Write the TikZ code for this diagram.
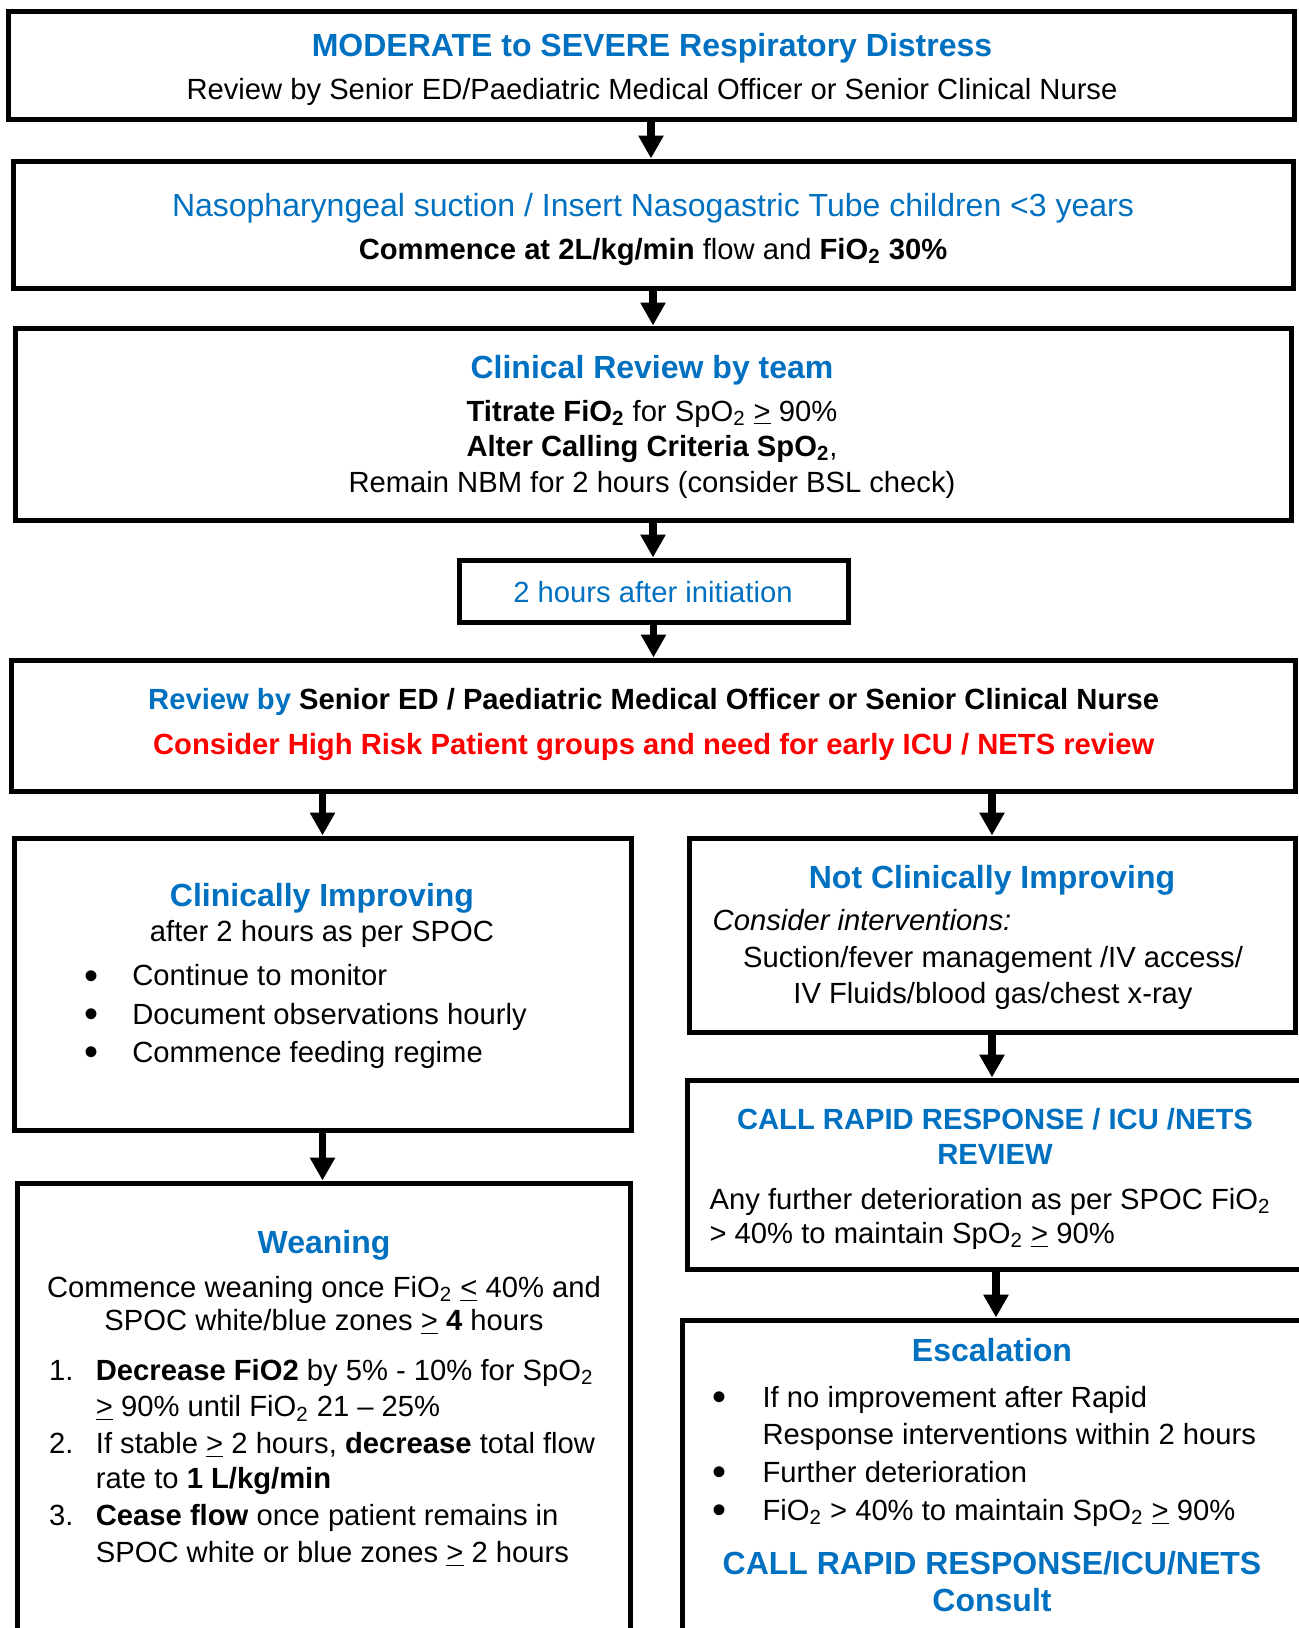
\documentclass[tikz,border=0pt]{standalone}
\usepackage{fontspec}
\setmainfont{Liberation Sans}
\usetikzlibrary{arrows.meta}
\definecolor{nblue}{RGB}{0,112,192}
\definecolor{nred}{RGB}{255,0,0}
\newcommand{\bodysz}{\fontsize{14.6}{17.5}\selectfont}
\newcommand{\headsz}{\fontsize{16}{19}\selectfont}
\newcommand{\ulgt}{\underline{>}}
\newcommand{\ullt}{\underline{<}}

\begin{document}
\begin{tikzpicture}[x=0.5pt,y=-0.5pt,
    box/.style={draw,line width=2.5pt,inner sep=0pt},
    arr/.style={line width=3.6pt,-{Triangle[length=11.5pt,width=12pt]}},
    ln/.style={inner sep=0pt,text height=0.72em,text depth=0pt,yshift=-1.8pt,font=\bodysz},
    hd/.style={ln,font=\headsz\bfseries,text=nblue},
    dot/.style={ln,yshift=-1.6pt,font=\fontsize{20}{20}\selectfont}]
      \useasboundingbox (0,0) rectangle (1298,1628);

      \node[box,minimum width=643pt,minimum height=54pt] (b1) at (651,65) {};
      \node[box,minimum width=640pt,minimum height=63.5pt] (b2) at (653,224.5) {};
      \node[box,minimum width=638pt,minimum height=96pt] (b3) at (653,424) {};
      \node[box,minimum width=194.5pt,minimum height=31pt] (b4) at (653.5,591) {};
      \node[box,minimum width=642pt,minimum height=65.5pt] (b5) at (653,725.5) {};
      \node[box,minimum width=308.5pt,minimum height=146pt] (b6) at (322.5,984) {};
      \node[box,minimum width=303pt,minimum height=97pt] (b7) at (992,935) {};
      \node[box,minimum width=308.5pt,minimum height=94.5pt] (b8) at (996,1174.5) {};
      \node[box,minimum width=306.5pt,minimum height=248.5pt] (b9) at (323.5,1431.5) {};
      \node[box,minimum width=314pt,minimum height=180pt] (b10) at (996,1500) {};

      \node[hd] (b1t1) at (652,45.7) {MODERATE to SEVERE Respiratory Distress};
      \node[ln] (b1t2) at (652,88.3) {Review by Senior ED/Paediatric Medical Officer or Senior Clinical Nurse};

      \node[ln,font=\headsz,text=nblue] (b2t1) at (653,205.6) {Nasopharyngeal suction / Insert Nasogastric Tube children <3 years};
      \node[ln] (b2t2) at (653,248.2) {\textbf{Commence at 2L/kg/min} flow and \textbf{FiO\textsubscript{2} 30\%}};

      \node[hd] (b3t1) at (652,367.6) {Clinical Review by team};
      \node[ln] (b3t2) at (652,410.2) {\textbf{Titrate FiO\textsubscript{2}} for SpO\textsubscript{2} \ulgt{} 90\%};
      \node[ln] (b3t3) at (652,445.5) {\textbf{Alter Calling Criteria SpO\textsubscript{2}},};
      \node[ln] (b3t4) at (652,481.8) {Remain NBM for 2 hours (consider BSL check)};

      \node[ln,text=nblue] (b4t1) at (653,591.9) {2 hours after initiation};

      \node[ln,font=\bodysz\bfseries] (b5t1) at (653.7,698.8) {{\color{nblue}Review by} Senior ED / Paediatric Medical Officer or Senior Clinical Nurse};
      \node[ln,font=\bodysz\bfseries,text=nred] (b5t2) at (653.7,743.5) {Consider High Risk Patient groups and need for early ICU / NETS review};

      \node[hd] (b6t1) at (322,896.1) {Clinically Improving};
      \node[ln] (b6t2) at (322,930.4) {after 2 hours as per SPOC};
      \node[dot] (b6d1) at (91.4,975) {\textbullet};
      \node[ln,anchor=west] (b6t3) at (131.9,975) {Continue to monitor};
      \node[dot] (b6d2) at (91.4,1013.5) {\textbullet};
      \node[ln,anchor=west] (b6t4) at (131.9,1013.5) {Document observations hourly};
      \node[dot] (b6d3) at (91.4,1051.9) {\textbullet};
      \node[ln,anchor=west] (b6t5) at (131.9,1051.9) {Commence feeding regime};

      \node[hd] (b7t1) at (992,877.4) {Not Clinically Improving};
      \node[ln,anchor=west,font=\bodysz\itshape] (b7t2) at (712.3,920) {Consider interventions:};
      \node[ln] (b7t3) at (993,956.4) {Suction/fever management /IV access/};
      \node[ln] (b7t4) at (993,992.7) {IV Fluids/blood gas/chest x-ray};

      \node[ln,font=\bodysz\bfseries,text=nblue] (b8t1) at (995,1118.4) {CALL RAPID RESPONSE / ICU /NETS};
      \node[ln,font=\bodysz\bfseries,text=nblue] (b8t2) at (995,1153.7) {REVIEW};
      \node[ln,anchor=west] (b8t3) at (709.2,1198.3) {Any further deterioration as per SPOC FiO\textsubscript{2}};
      \node[ln,anchor=west] (b8t4) at (709.2,1232.6) {> 40\% to maintain SpO\textsubscript{2} \ulgt{} 90\%};

      \node[hd] (b9t1) at (324,1243) {Weaning};
      \node[ln] (b9t2) at (324,1286.6) {Commence weaning once FiO\textsubscript{2} \ullt{} 40\% and};
      \node[ln] (b9t3) at (324,1319.8) {SPOC white/blue zones \ulgt{} \textbf{4} hours};
      \node[ln,anchor=west] (b9n1) at (48.8,1369.7) {1.};
      \node[ln,anchor=west] (b9t4) at (95.5,1369.7) {\textbf{Decrease FiO2} by 5\% - 10\% for SpO\textsubscript{2}};
      \node[ln,anchor=west] (b9t5) at (95.5,1406) {\ulgt{} 90\% until FiO\textsubscript{2} 21 – 25\%};
      \node[ln,anchor=west] (b9n2) at (48.8,1442.3) {2.};
      \node[ln,anchor=west] (b9t6) at (95.5,1442.3) {If stable \ulgt{} 2 hours, \textbf{decrease} total flow};
      \node[ln,anchor=west] (b9t7) at (95.5,1477.6) {rate to \textbf{1 L/kg/min}};
      \node[ln,anchor=west] (b9n3) at (48.8,1515) {3.};
      \node[ln,anchor=west] (b9t8) at (95.5,1515) {\textbf{Cease flow} once patient remains in};
      \node[ln,anchor=west] (b9t9) at (95.5,1551.4) {SPOC white or blue zones \ulgt{} 2 hours};

      \node[hd] (b10t1) at (992,1351) {Escalation};
      \node[dot] (b10d1) at (719.6,1396.7) {\textbullet};
      \node[ln,anchor=west] (b10t2) at (762.2,1396.7) {If no improvement after Rapid};
      \node[ln,anchor=west] (b10t3) at (762.2,1434) {Response interventions within 2 hours};
      \node[dot] (b10d2) at (719.6,1471.4) {\textbullet};
      \node[ln,anchor=west] (b10t4) at (762.2,1471.4) {Further deterioration};
      \node[dot] (b10d3) at (719.6,1509.8) {\textbullet};
      \node[ln,anchor=west] (b10t5) at (762.2,1509.8) {FiO\textsubscript{2} > 40\% to maintain SpO\textsubscript{2} \ulgt{} 90\%};
      \node[hd] (b10t6) at (992,1563.8) {CALL RAPID RESPONSE/ICU/NETS};
      \node[hd] (b10t7) at (992,1600.2) {Consult};

      \draw[arr] (b1.south) -- (b1.south |- b2.north);
      \draw[arr] (b2.south) -- (b2.south |- b3.north);
      \draw[arr] (b3.south) -- (b3.south |- b4.north);
      \draw[arr] (b4.south) -- (b4.south |- b5.north);
      \draw[arr] (b5.south -| b6.north) -- (b6.north);
      \draw[arr] (b5.south -| b7.north) -- (b7.north);
      \draw[arr] (b7.south) -- (b7.south |- b8.north);
      \draw[arr] (b6.south) -- (b6.south |- b9.north);
      \draw[arr] (b8.south) -- (b8.south |- b10.north);
    \end{tikzpicture}
\end{document}
